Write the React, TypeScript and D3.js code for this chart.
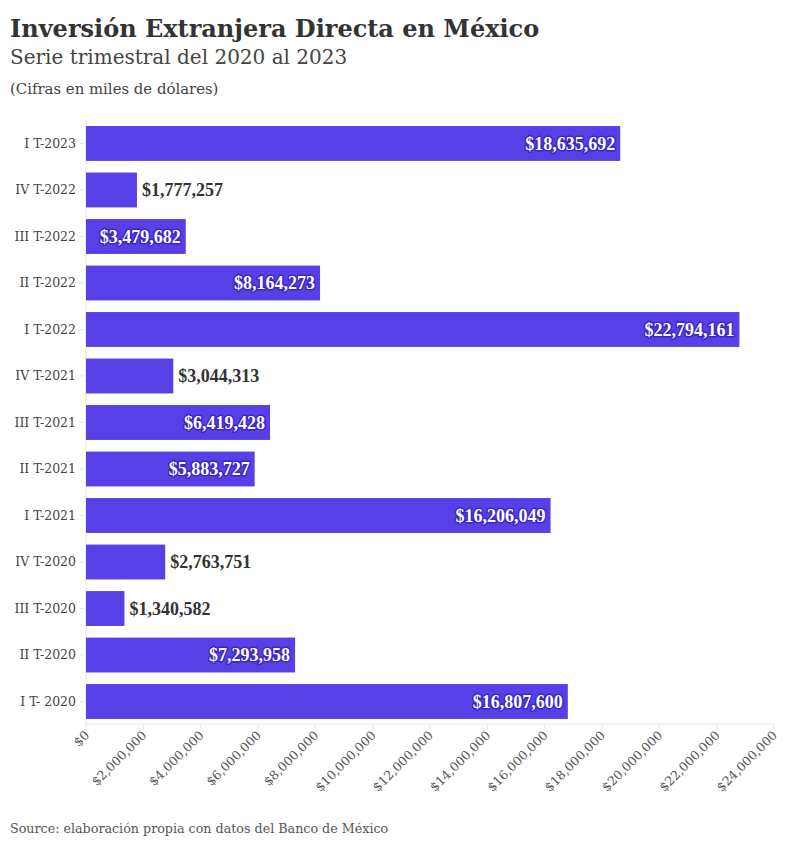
import React from "react";
import * as d3 from "d3";

const categories = [
  "I T-2023", "IV T-2022", "III T-2022", "II T-2022", "I T-2022",
  "IV T-2021", "III T-2021", "II T-2021", "I T-2021",
  "IV T-2020", "III T-2020", "II T-2020", "I T- 2020",
];
const values = [
  18635692, 1777257, 3479682, 8164273, 22794161,
  3044313, 6419428, 5883727, 16206049,
  2763751, 1340582, 7293958, 16807600,
];
const xTicks = [0, 2e6, 4e6, 6e6, 8e6, 10e6, 12e6, 14e6, 16e6, 18e6, 20e6, 22e6, 24e6];

const W = 796, H = 848;
const left = 86, right = 774, top = 120, bottom = 725;
const FONT = "'DejaVu Serif', 'Liberation Serif', serif";
const VFONT = "'Liberation Serif', serif";
const BAR = "#5740e6";

export default function App() {
  const x = d3.scaleLinear().domain([0, 24e6]).range([left, right]);
  const y = d3.scaleBand<string>().domain(categories).range([top, bottom]).paddingInner(0.25).paddingOuter(0.13);
  const fmt = (v: number) => "$" + d3.format(",")(v);
  return (
    <svg width={W} height={H} style={{ position: "absolute", left: 0, top: 0, fontFamily: FONT }}>
      <text x={10} y={37} fontSize={24} fontWeight={700} fill="#333">Inversión Extranjera Directa en México</text>
      <text x={10} y={64} fontSize={20} fontWeight={300} fill="#444">Serie trimestral del 2020 al 2023</text>
      <text x={10} y={94} fontSize={14.9} fill="#444">(Cifras en miles de dólares)</text>
      <line x1={left} x2={left} y1={top} y2={bottom} stroke="#e6e6e6" />
      <line x1={left} x2={right} y1={bottom - 1} y2={bottom - 1} stroke="#e6e6e6" />
      {xTicks.map((t) => (
        <g key={t} transform={`translate(${x(t)},${bottom - 1})`}>
          <line y1={0} y2={6} stroke="#e6e6e6" />
          <text transform="translate(4,12) rotate(-45)" textAnchor="end" fontSize={12.5} fill="#555">{fmt(t)}</text>
        </g>
      ))}
      {categories.map((c, i) => {
        const yc = y(c)! + y.bandwidth() / 2;
        const w = x(values[i]) - left;
        const label = fmt(values[i]);
        const inside = values[i] > 3.2e6;
        return (
          <g key={c}>
            <line x1={left - 6} x2={left - 2} y1={yc} y2={yc} stroke="#e6e6e6" />
            <text x={76} y={yc} dy="0.35em" textAnchor="end" fontSize={12.5} fill="#444">{c}</text>
            <rect x={left} y={y(c)!} width={w} height={y.bandwidth()} fill={BAR} />
            {inside ? (
              <text x={x(values[i]) - 5} y={yc} dy="0.35em" textAnchor="end" fontSize={18} fontWeight={700}
                fontFamily={VFONT} fill="#fff" stroke="#3d26c4" strokeWidth={3} paintOrder="stroke" strokeLinejoin="round">{label}</text>
            ) : (
              <text x={x(values[i]) + 5} y={yc} dy="0.35em" textAnchor="start" fontSize={18} fontWeight={700}
                fontFamily={VFONT} fill="#333">{label}</text>
            )}
          </g>
        );
      })}
      <text x={10} y={833} fontSize={12.7} fill="#555">Source: elaboración propia con datos del Banco de México</text>
    </svg>
  );
}
